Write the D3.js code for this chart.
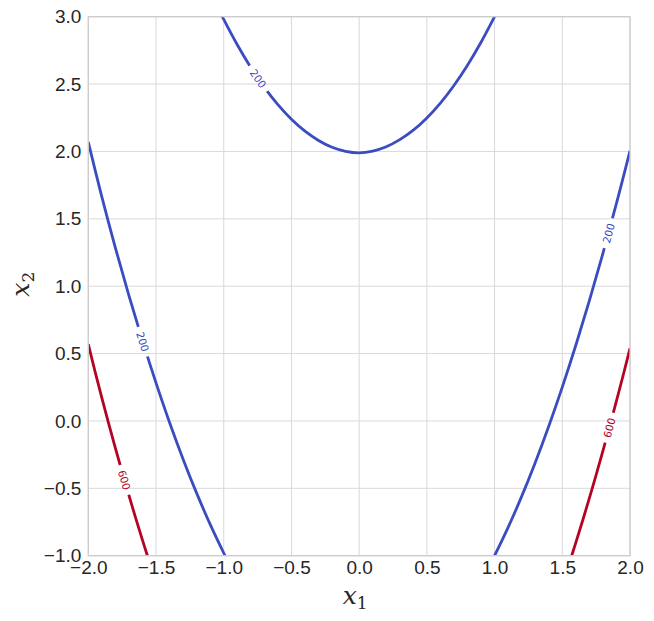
<!DOCTYPE html>
<html>
<head>
<meta charset="utf-8">
<script src="https://cdn.jsdelivr.net/npm/d3@7"></script>
<style>
  body { margin: 0; background: #fff; }
  svg { display: block; }
</style>
</head>
<body>
<svg id="chart" width="654" height="621"></svg>
<script>
// ---- data ----
const x1Ticks = [-2.0, -1.5, -1.0, -0.5, 0.0, 0.5, 1.0, 1.5, 2.0];
const x2Ticks = [-1.0, -0.5, 0.0, 0.5, 1.0, 1.5, 2.0, 2.5, 3.0];
const levels = [200, 600];

const contour200Top = [[-1.02,3.0199],[-1.0,2.9799],[-0.9,2.7919],[-0.8,2.6237],[-0.7,2.4755],[-0.6,2.3472],[-0.5,2.2387],[-0.4,2.1502],[-0.3,2.0815],[-0.2,2.0308],[-0.1,2.0009],[0.0,1.99],[0.1,2.0029],[0.2,2.0348],[0.3,2.0875],[0.4,2.1582],[0.5,2.2487],[0.6,2.3592],[0.7,2.4895],[0.8,2.6398],[0.9,2.81],[1.0,3.0],[1.01,3.0201]];
const contour200Left = [[-2.0,2.07],[-1.9,1.6625],[-1.8,1.2846],[-1.7,0.9298],[-1.6,0.5961],[-1.5,0.2825],[-1.4,-0.011],[-1.3,-0.2834],[-1.2,-0.5357],[-1.1,-0.7678],[-1.0,-0.9799],[-0.98,-1.0199]];
const contour200Right = [[0.98,-1.0396],[1.0,-1.0],[1.1,-0.79],[1.2,-0.5598],[1.3,-0.3095],[1.4,-0.0392],[1.5,0.2513],[1.6,0.5618],[1.7,0.8925],[1.8,1.2432],[1.9,1.6141],[2.0,2.005]];
const contour600Left = [[-2.0,0.57],[-1.95,0.3666],[-1.9,0.1713],[-1.85,-0.0181],[-1.8,-0.2014],[-1.75,-0.3797],[-1.7,-0.553],[-1.65,-0.7213],[-1.6,-0.8845],[-1.55,-1.0428]];
const contour600Right = [[1.55,-1.0607],[1.6,-0.9031],[1.65,-0.7404],[1.7,-0.5727],[1.75,-0.4],[1.8,-0.2223],[1.85,-0.0395],[1.9,0.1482],[1.95,0.341],[2.0,0.5388]];

// contour label anchor (x1 value along each branch)
const branches = [
  { level: 200, points: contour200Top,   labelX1: -0.745 },
  { level: 200, points: contour200Left,  labelX1: -1.598 },
  { level: 200, points: contour200Right, labelX1: 1.841 },
  { level: 600, points: contour600Left,  labelX1: -1.733 },
  { level: 600, points: contour600Right, labelX1: 1.847 }
];

// ---- layout ----
const W = 654, H = 621;
const plot = { left: 88.3, right: 630, top: 16.7, bottom: 555.7 };
const svg = d3.select("#chart");

const x = d3.scaleLinear().domain([-2, 2]).range([plot.left, plot.right]);
const y = d3.scaleLinear().domain([-1, 3]).range([plot.bottom, plot.top]);
const color = d3.scaleOrdinal().domain(levels).range(["#3b4cc0", "#b40426"]);

const gridColor = "#d9d9d9";
const textColor = "#262626";
const tickFont = "'Liberation Sans', Arial, sans-serif";

// grid
const grid = svg.append("g");
grid.selectAll("line.vx").data(x1Ticks).join("line")
  .attr("x1", d => x(d)).attr("x2", d => x(d))
  .attr("y1", plot.top).attr("y2", plot.bottom)
  .attr("stroke", gridColor).attr("stroke-width", 1);
grid.selectAll("line.hy").data(x2Ticks).join("line")
  .attr("y1", d => y(d)).attr("y2", d => y(d))
  .attr("x1", plot.left).attr("x2", plot.right)
  .attr("stroke", gridColor).attr("stroke-width", 1);

// axes (tick labels only)
const xAxis = d3.axisBottom(x).tickValues(x1Ticks).tickFormat(d3.format(".1f")).tickSize(0).tickPadding(5);
const yAxis = d3.axisLeft(y).tickValues(x2Ticks).tickFormat(d3.format(".1f")).tickSize(0).tickPadding(7);
const gx = svg.append("g").attr("transform", `translate(0,${plot.bottom})`).call(xAxis);
const gy = svg.append("g").attr("transform", `translate(${plot.left},0)`).call(yAxis);
[gx, gy].forEach(g => {
  g.select(".domain").remove();
  g.selectAll("text").attr("font-family", tickFont).attr("font-size", 19).attr("fill", textColor);
});

// clip + mask
const defs = svg.append("defs");
defs.append("clipPath").attr("id", "plotclip").append("rect")
  .attr("x", plot.left).attr("y", plot.top)
  .attr("width", plot.right - plot.left).attr("height", plot.bottom - plot.top);
const mask = defs.append("mask").attr("id", "labelmask").attr("maskUnits", "userSpaceOnUse")
  .attr("x", 0).attr("y", 0).attr("width", W).attr("height", H);
mask.append("rect").attr("x", 0).attr("y", 0).attr("width", W).attr("height", H).attr("fill", "white");

const line = d3.line().x(d => x(d[0])).y(d => y(d[1])).curve(d3.curveCatmullRom);

const linesG = svg.append("g").attr("clip-path", "url(#plotclip)").append("g").attr("mask", "url(#labelmask)");
const labelsG = svg.append("g");

branches.forEach(b => {
  const path = linesG.append("path")
    .attr("d", line(b.points))
    .attr("fill", "none")
    .attr("stroke", color(b.level))
    .attr("stroke-width", 2.8)
    .attr("stroke-linejoin", "round");
  const node = path.node();
  const total = node.getTotalLength();
  const tx = x(b.labelX1);
  let best = 0, bestD = Infinity;
  for (let l = 0; l <= total; l += 0.5) {
    const p = node.getPointAtLength(l);
    const dd = Math.abs(p.x - tx);
    if (dd < bestD) { bestD = dd; best = l; }
  }
  const pc = node.getPointAtLength(best);
  const p0 = node.getPointAtLength(Math.max(0, best - 5));
  const p1 = node.getPointAtLength(Math.min(total, best + 5));
  let ang = Math.atan2(p1.y - p0.y, p1.x - p0.x) * 180 / Math.PI;
  if (ang > 90) ang -= 180;
  if (ang < -90) ang += 180;
  mask.append("rect")
    .attr("x", -15.5).attr("y", -7).attr("width", 31).attr("height", 14)
    .attr("fill", "black")
    .attr("transform", `translate(${pc.x},${pc.y}) rotate(${ang})`);
  labelsG.append("text")
    .attr("transform", `translate(${pc.x},${pc.y}) rotate(${ang})`)
    .attr("text-anchor", "middle")
    .attr("dominant-baseline", "central")
    .attr("font-family", "'DejaVu Sans', sans-serif")
    .attr("font-size", 10.5)
    .attr("fill", color(b.level))
    .text(String(b.level));
});

// frame
svg.append("rect")
  .attr("x", plot.left).attr("y", plot.top)
  .attr("width", plot.right - plot.left).attr("height", plot.bottom - plot.top)
  .attr("fill", "none").attr("stroke", "#cccccc").attr("stroke-width", 1.25);

// axis labels
const mathFont = "'DejaVu Serif', 'Liberation Serif', serif";
const xl = svg.append("text")
  .attr("x", (plot.left + plot.right) / 2 - 4).attr("y", 604)
  .attr("text-anchor", "middle")
  .attr("font-family", mathFont).attr("fill", textColor);
xl.append("tspan").attr("font-style", "italic").attr("font-size", 25).text("x");
xl.append("tspan").attr("font-size", 17).attr("dy", 5).text("1");

const yl = svg.append("text")
  .attr("transform", `translate(29,${(plot.top + plot.bottom) / 2 - 2}) rotate(-90)`)
  .attr("text-anchor", "middle")
  .attr("font-family", mathFont).attr("fill", textColor);
yl.append("tspan").attr("font-style", "italic").attr("font-size", 25).text("x");
yl.append("tspan").attr("font-size", 17).attr("dy", 5).text("2");
</script>
</body>
</html>
